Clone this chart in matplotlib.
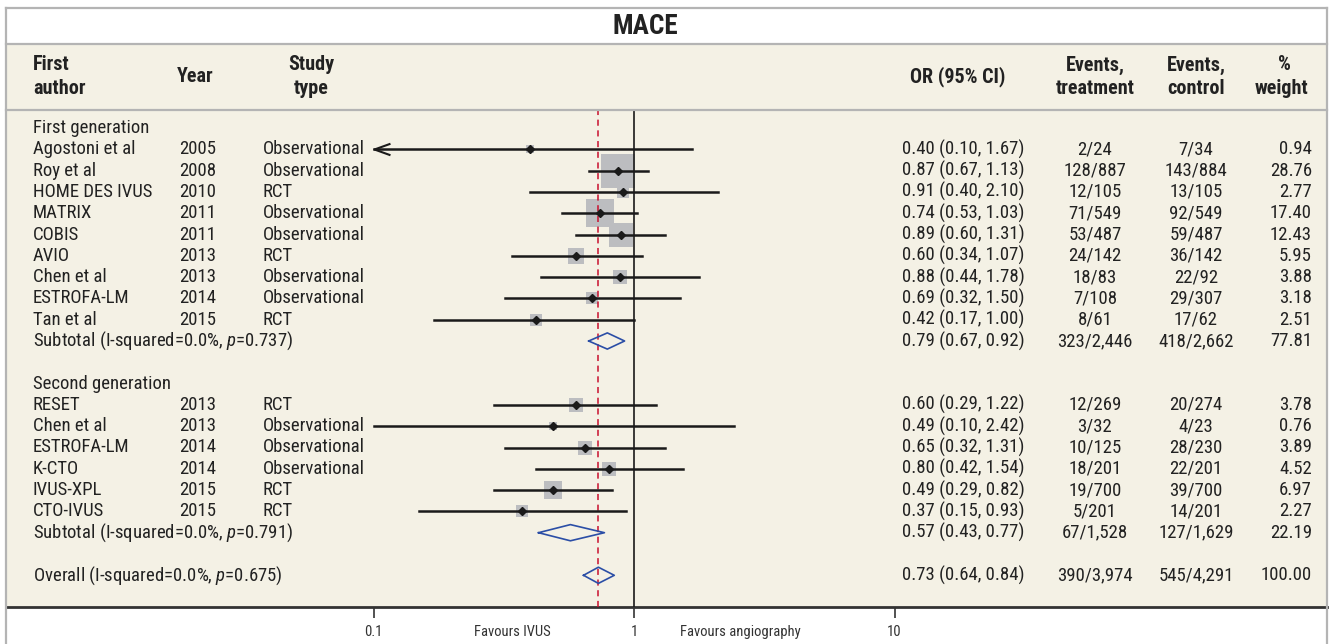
import numpy as np
import matplotlib
matplotlib.use("Agg")
import matplotlib.pyplot as plt
from matplotlib import font_manager
from matplotlib.lines import Line2D
from matplotlib.patches import Rectangle
from matplotlib.path import Path
from matplotlib.transforms import blended_transform_factory

# pick a narrow font if one is installed
FONT = "DejaVu Sans"
for name in ["Liberation Sans Narrow", "DejaVu Sans Condensed", "Roboto Condensed", "Liberation Sans"]:
    try:
        font_manager.findfont(font_manager.FontProperties(family=name), fallback_to_default=False)
        FONT = name
        break
    except Exception:
        pass
plt.rcParams['font.family'] = [FONT, 'DejaVu Sans']
plt.rcParams['mathtext.fontset'] = 'custom'
plt.rcParams['mathtext.rm'] = FONT
plt.rcParams['mathtext.it'] = FONT + ':italic'

# ---- data ----
names1 = ["Agostoni et al", "Roy et al", "HOME DES IVUS", "MATRIX", "COBIS", "AVIO", "Chen et al", "ESTROFA-LM", "Tan et al"]
years1 = [2005, 2008, 2010, 2011, 2011, 2013, 2013, 2014, 2015]
types1 = ["Observational", "Observational", "RCT", "Observational", "Observational", "RCT", "Observational", "Observational", "RCT"]
or1 = [0.40, 0.87, 0.91, 0.74, 0.89, 0.60, 0.88, 0.69, 0.42]
lo1 = [0.10, 0.67, 0.40, 0.53, 0.60, 0.34, 0.44, 0.32, 0.17]
hi1 = [1.67, 1.13, 2.10, 1.03, 1.31, 1.07, 1.78, 1.50, 1.00]
evt1 = ["2/24", "128/887", "12/105", "71/549", "53/487", "24/142", "18/83", "7/108", "8/61"]
evc1 = ["7/34", "143/884", "13/105", "92/549", "59/487", "36/142", "22/92", "29/307", "17/62"]
w1 = [0.94, 28.76, 2.77, 17.40, 12.43, 5.95, 3.88, 3.18, 2.51]
clipped1 = [True, False, False, False, False, False, False, False, False]  # CI runs past the left edge

names2 = ["RESET", "Chen et al", "ESTROFA-LM", "K-CTO", "IVUS-XPL", "CTO-IVUS"]
years2 = [2013, 2013, 2014, 2014, 2015, 2015]
types2 = ["RCT", "Observational", "Observational", "Observational", "RCT", "RCT"]
or2 = [0.60, 0.49, 0.65, 0.80, 0.49, 0.37]
lo2 = [0.29, 0.10, 0.32, 0.42, 0.29, 0.15]
hi2 = [1.22, 2.42, 1.31, 1.54, 0.82, 0.93]
evt2 = ["12/269", "3/32", "10/125", "18/201", "19/700", "5/201"]
evc2 = ["20/274", "4/23", "28/230", "22/201", "39/700", "14/201"]
w2 = [3.78, 0.76, 3.89, 4.52, 6.97, 2.27]
clipped2 = [False] * 6

# subtotal 1, subtotal 2, overall
pool_label = ["Subtotal (I-squared=0.0%, $p$=0.737)", "Subtotal (I-squared=0.0%, $p$=0.791)",
              "Overall (I-squared=0.0%, $p$=0.675)"]
pool_or = [0.79, 0.57, 0.73]
pool_lo = [0.67, 0.43, 0.64]
pool_hi = [0.92, 0.77, 0.84]
pool_evt = ["323/2,446", "67/1,528", "390/3,974"]
pool_evc = ["418/2,662", "127/1,629", "545/4,291"]
pool_w = [77.81, 22.19, 100.00]

xmin_shown = 0.1  # lower edge of the plotted CI range

# ---- layout (pixels) ----
W, H = 1332, 644
def fx(px): return px / W
def fy(py): return 1 - py / H

row0, rowh = 128, 21.3
def row_of(py): return (py - row0) / rowh
x1px, decade = 634, 260.5
def val_of(px): return 10 ** ((px - x1px) / decade)

beige = "#f4f1e5"
frame = "#b4b4b4"
box_col = "#bcbdc0"
blue = "#2b4ea6"
red = "#c8102e"

# open "<" arrow head, tip at the data point
chevron = Path([(1, 0.36), (0, 0), (1, -0.36)], [Path.MOVETO, Path.LINETO, Path.LINETO])

fig = plt.figure(figsize=(W / 100, H / 100), dpi=100, facecolor="white")

fig.add_artist(Rectangle((fx(6), fy(607)), fx(1327) - fx(6), fy(44) - fy(607),
                         transform=fig.transFigure, facecolor=beige, edgecolor="none", zorder=0))
for (xa, xb, ya, yb) in [(6, 1327, 8, 8), (6, 6, 8, 644), (1327, 1327, 8, 644),
                         (6, 1327, 44, 44), (6, 1327, 110, 110)]:
    fig.add_artist(Line2D([fx(xa), fx(xb)], [fy(ya), fy(yb)], transform=fig.transFigure,
                          color=frame, lw=1.6, zorder=1))

fig.text(fx(645), fy(26), "MACE", ha="center", va="center", fontsize=19.5, fontweight="bold", color="#222222")

hdr = dict(fontsize=14.5, fontweight="bold", color="#222222", va="center")
fig.text(fx(33), fy(65), "First", ha="left", **hdr)
fig.text(fx(33), fy(88), "author", ha="left", **hdr)
fig.text(fx(195), fy(76), "Year", ha="center", **hdr)
fig.text(fx(311), fy(65), "Study", ha="center", **hdr)
fig.text(fx(311), fy(88), "type", ha="center", **hdr)
fig.text(fx(958), fy(77), "OR (95% CI)", ha="center", **hdr)
fig.text(fx(1095), fy(65), "Events,", ha="center", **hdr)
fig.text(fx(1095), fy(88), "treatment", ha="center", **hdr)
fig.text(fx(1196), fy(65), "Events,", ha="center", **hdr)
fig.text(fx(1196), fy(88), "control", ha="center", **hdr)
fig.text(fx(1284), fy(65), "%", ha="center", **hdr)
fig.text(fx(1282), fy(88), "weight", ha="center", **hdr)

ax = fig.add_axes([fx(6), fy(607), fx(1327) - fx(6), fy(110) - fy(607)])
ax.set_facecolor(beige)
ax.set_xscale("log")
ax.set_xlim(val_of(6), val_of(1327))
ax.set_ylim(row_of(607), row_of(110))
for s in ["top", "left", "right"]:
    ax.spines[s].set_visible(False)
ax.spines["bottom"].set_linewidth(2)
ax.spines["bottom"].set_color("#333333")
ax.set_yticks([])
ax.set_xticks([0.1, 1, 10])
ax.set_xticklabels(["0.1", "1", "10"])
ax.xaxis.set_minor_locator(matplotlib.ticker.NullLocator())
ax.tick_params(axis="x", direction="out", length=8, width=1.2, labelsize=10.5, pad=5, colors="#333333")

tr = blended_transform_factory(fig.transFigure, ax.transData)
body = dict(fontsize=13.5, color="#222222", va="center", transform=tr)

def study_rows(start, names, years, types, ors, los, his, evt, evc, w, clipped):
    for i in range(len(names)):
        y = start + i
        ax.text(fx(33), y, names[i], ha="left", **body)
        ax.text(fx(179), y, str(years[i]), ha="left", **body)
        ax.text(fx(263), y, types[i], ha="left", **body)
        ax.text(fx(902), y, "%.2f (%.2f, %.2f)" % (ors[i], los[i], his[i]), ha="left", **body)
        ax.text(fx(1095), y, evt[i], ha="center", **body)
        ax.text(fx(1196), y, evc[i], ha="center", **body)
        ax.text(fx(1312), y, "%.2f" % w[i], ha="right", **body)
        side = 2 + 6 * np.sqrt(w[i])
        ax.scatter([ors[i]], [y], marker="s", s=(side * 0.72) ** 2, color=box_col, zorder=2, linewidths=0)
        left = max(los[i], xmin_shown)
        ax.plot([left, his[i]], [y, y], color="#1a1a1a", lw=1.8, zorder=4)
        if clipped[i]:
            ax.plot([xmin_shown], [y], marker=chevron, ms=23, mew=1.5, fillstyle="none",
                    color="#1a1a1a", zorder=4)
        ax.plot([ors[i]], [y], marker="D", ms=4.5, color="#1a1a1a", zorder=5)

ax.text(fx(33), 0, "First generation", ha="left", **body)
study_rows(1, names1, years1, types1, or1, lo1, hi1, evt1, evc1, w1, clipped1)
ax.text(fx(33), 12, "Second generation", ha="left", **body)
study_rows(13, names2, years2, types2, or2, lo2, hi2, evt2, evc2, w2, clipped2)

pool_rows = [10, 19, 21]
dh = 0.38
for k, y in enumerate(pool_rows):
    ax.text(fx(33), y, pool_label[k], ha="left", **body)
    ax.text(fx(902), y, "%.2f (%.2f, %.2f)" % (pool_or[k], pool_lo[k], pool_hi[k]), ha="left", **body)
    ax.text(fx(1095), y, pool_evt[k], ha="center", **body)
    ax.text(fx(1196), y, pool_evc[k], ha="center", **body)
    ax.text(fx(1312), y, "%.2f" % pool_w[k], ha="right", **body)
    ax.plot([pool_lo[k], pool_or[k], pool_hi[k], pool_or[k], pool_lo[k]],
            [y, y - dh, y, y + dh, y], color=blue, lw=1.2, zorder=5)

ax.axvline(1, color="#1a1a1a", lw=1.2, zorder=3)
ax.axvline(pool_or[2], color=red, lw=1.1, ls=(0, (4, 3)), zorder=3)

fig.text(fx(512), fy(632), "Favours IVUS", ha="center", va="center", fontsize=10.5, color="#333333")
fig.text(fx(740), fy(632), "Favours angiography", ha="center", va="center", fontsize=10.5, color="#333333")

fig.savefig("out.png", dpi=100, facecolor="white")
